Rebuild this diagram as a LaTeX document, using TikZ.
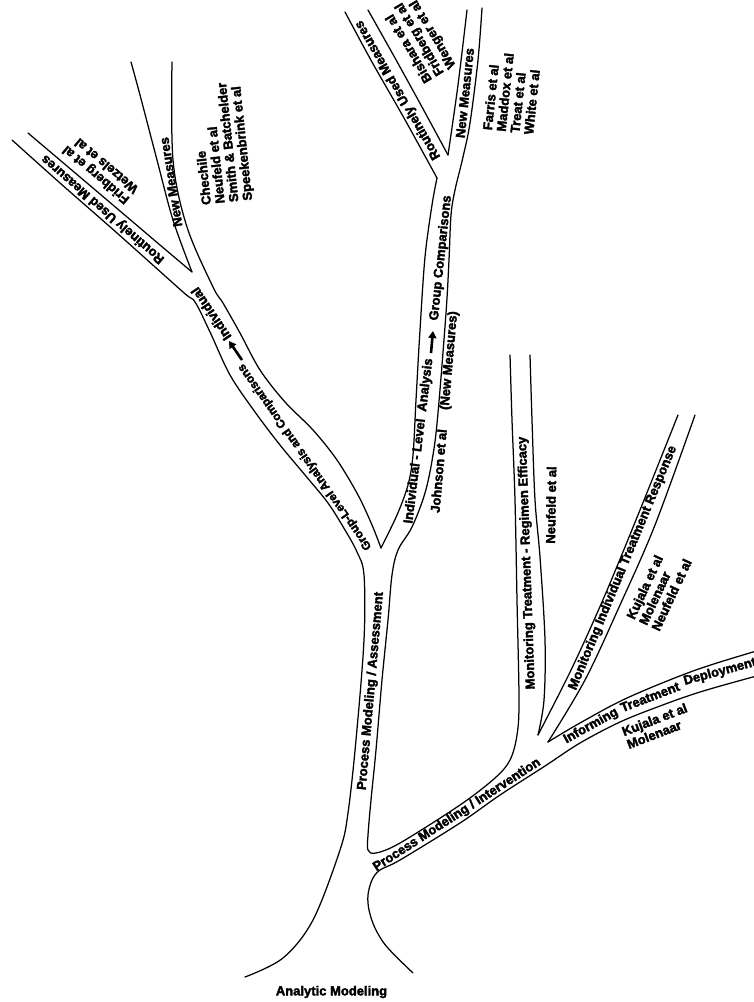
\documentclass[tikz,border=0pt]{standalone}
\usepackage{fontspec}
\setmainfont{Liberation Sans}[BoldFeatures={FakeBold=2.5}]
\usetikzlibrary{arrows.meta}
\begin{document}
\begin{tikzpicture}[x=1pt,y=-1pt,
  branch/.style={line width=1.25pt, line cap=round, line join=round},
  lbl/.style={font=\fontsize{13}{13.8}\selectfont\bfseries, inner sep=0pt, align=left},
  bigarrow/.style={line width=2.6pt, -{Triangle[length=7pt,width=8pt]}}]
\useasboundingbox (0,0) rectangle (753,1002);
\fill[white] (0,0) rectangle (753,1002);

% outer left contour: upper-left twig, group-level limb, trunk
\draw[branch] plot[smooth,tension=0.55] coordinates {(12,140) (60,183) (117,233) (183,292) (195,302) (210,332) (230,375) (255,412) (280,445) (305,475) (328,503) (345,530) (357,552) (364,575) (364,640) (356,740) (348,813) (340,850) (313,920) (283,958) (245,977)};
% right side of the left New Measures twig down to the fork
\draw[branch] plot[smooth,tension=0.55] coordinates {(172,62) (173,160) (187,227) (213,287) (223,303) (240,333) (260,370) (285,402) (313,430) (337,460) (358,495) (372,525) (381,548)};
% inner sides of the upper-left fork
\draw[branch] plot[smooth,tension=0.55] coordinates {(28,133) (100,194) (160,245) (192,272)};
\draw[branch] plot[smooth,tension=0.55] coordinates {(192,272) (173,220) (157,160) (140,95) (131,62)};
% left side of the individual-level limb
\draw[branch] plot[smooth,tension=0.55] coordinates {(381,548) (397,515) (408,485) (413,455) (416,400) (420,330) (425,257) (432,205) (437,178)};
% upper-right twig
\draw[branch] plot[smooth,tension=0.55] coordinates {(437,178) (404,118) (372,62) (345,12)};
\draw[branch] plot[smooth,tension=0.55] coordinates {(368,10) (395,58) (422,107) (448,155)};
\draw[branch] plot[smooth,tension=0.55] coordinates {(448,155) (458,85) (467,10)};
% long right contour: upper-right twig, individual-level limb, trunk, intervention limb, regimen twig
\draw[branch] plot[smooth,tension=0.55] coordinates {(482,8) (478,60) (470,123) (463,157) (455,190) (451,215) (449,260) (446,313) (438,413) (433,455) (425,493) (412,527) (398,550) (392,575) (388,620) (382,680) (376,750) (371,800) (368,835) (368,850) (376,853) (400,843) (460,805) (495,778) (510,760) (517,735) (519,700) (517,600) (515,500) (512,420) (510,355)};
% regimen twig, right side
\draw[branch] plot[smooth,tension=0.55] coordinates {(530,355) (532,420) (535,500) (540,557) (545,640) (544,700) (538,735)};
% individual treatment response twig
\draw[branch] plot[smooth,tension=0.55] coordinates {(538,735) (572,668) (605,595) (640,510) (678,415)};
\draw[branch] plot[smooth,tension=0.55] coordinates {(695,415) (655,525) (620,605) (585,680) (548,742)};
% treatment deployment twig
\draw[branch] plot[smooth,tension=0.55] coordinates {(548,742) (580,723) (627,698) (693,671) (753,652) (775,646)};
\draw[branch] plot[smooth,tension=0.55] coordinates {(775,672) (753,677) (700,692) (660,706) (620,722) (580,743) (545,766) (500,795) (460,823) (400,860) (380,870) (372,880) (368,895) (369,910) (375,928) (387,947) (413,973)};

% labels
\node[lbl, rotate=139] (ruLeft) at (103,209) {Routinely Used Measures};
\node[lbl, rotate=140] (ruLeftRefs) at (100,170) {Fridberg et al\\Wetzels et al};
\node[lbl, rotate=99] (nmLeft) at (171,182) {New Measures};
\node[lbl, rotate=96] (nmLeftRefs) at (222,143) {Chechile\\Neufeld et al\\Smith \& Batchelder\\Speekenbrink et al};
\node[lbl, rotate=124] (indLeft) at (211,314) {Individual};
\coordinate (gArrTail) at (242,360);
\coordinate (gArrHead) at (229,341);
\draw[bigarrow] (gArrTail) -- (gArrHead);
\node[lbl, rotate=125, font=\fontsize{11.8}{13}\selectfont\bfseries] (groupLevel) at (305,457) {Group-Level Analysis and Comparisons};
\node[lbl, rotate=83] (indLevel) at (419,441) {Individual - Level\ \ Analysis};
\coordinate (iArrTail) at (431,353);
\coordinate (iArrHead) at (433,331);
\draw[bigarrow] (iArrTail) -- (iArrHead);
\node[lbl, rotate=84] (groupComp) at (441,258) {Group Comparisons};
\node[lbl, rotate=85] (johnson) at (445,412) {Johnson et al\hspace{1.5em}(New Measures)};
\node[lbl, rotate=120] (ruRight) at (398,90) {Routinely Used Measures};
\node[lbl, rotate=121] (ruRightRefs) at (420,39) {Bishara et al\\Fridberg et al\\Wenger et al};
\node[lbl, rotate=84] (nmRight) at (465,93) {New Measures};
\node[lbl, rotate=84] (nmRightRefs) at (512,93) {Farris et al\\Maddox et al\\Treat et al\\White et al};
\node[lbl, rotate=85] (assess) at (371,691) {Process Modeling / Assessment};
\node[lbl, rotate=92] (regimen) at (527,563) {Monitoring Treatment - Regimen Efficacy};
\node[lbl, rotate=89] (regimenRef) at (551,505) {Neufeld et al};
\node[lbl, rotate=67.5] (indResp) at (623,568) {Monitoring Individual Treatment Response};
\node[lbl, rotate=65] (indRespRefs) at (659,589) {Kujala et al\\Molenaar\\Neufeld et al};
\node[lbl, rotate=33] (interv) at (457,815) {Process Modeling / Intervention};
\node[lbl, rotate=29] (inform1) at (591,726) {Informing};
\node[lbl, rotate=21] (inform2) at (650,697) {Treatment};
\node[lbl, rotate=15] (inform3) at (720,672) {Deployment};
\node[lbl, rotate=21] (deployRefs) at (657,726) {Kujala et al\\Molenaar};
\node[lbl] (root) at (331.5,992) {Analytic Modeling};
\end{tikzpicture}
\end{document}
